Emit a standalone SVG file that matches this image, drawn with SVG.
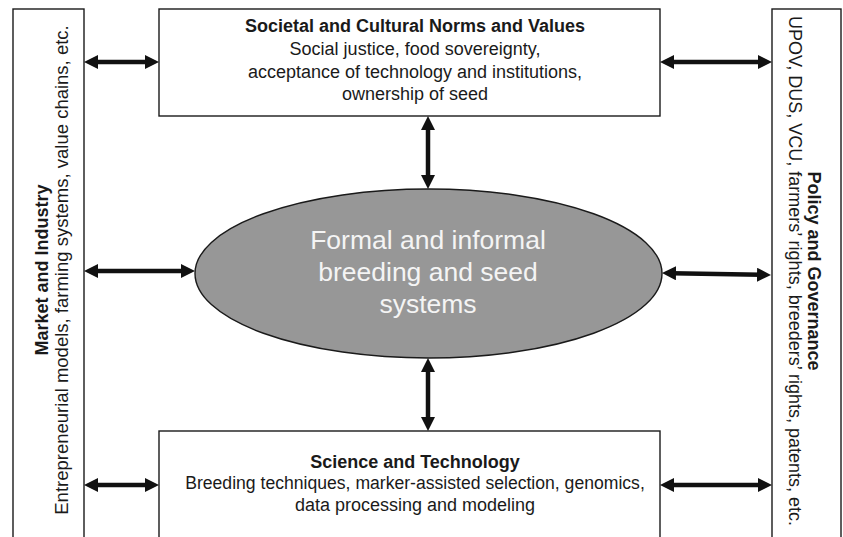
<svg xmlns="http://www.w3.org/2000/svg" width="843" height="537" viewBox="0 0 843 537">
<style>
.box{fill:#fff;stroke:#1a1a1a;stroke-width:1.4}
.ell{fill:#979797;stroke:#1a1a1a;stroke-width:1.4}
.t{font-family:"Liberation Sans",Arial,sans-serif;font-size:18px;fill:#1a1a1a;text-anchor:middle}
.b{font-weight:bold}
.et{font-family:"Liberation Sans",Arial,sans-serif;font-size:26.5px;fill:#f4f4f4;text-anchor:middle}
.arr{stroke:#111;stroke-width:4.5;fill:none;marker-start:url(#ah);marker-end:url(#ah)}
</style>
<defs>
<marker id="ah" viewBox="0 0 14 14" markerWidth="14" markerHeight="14" markerUnits="userSpaceOnUse" refX="4" refY="7" orient="auto-start-reverse">
<path d="M0,0 L14,7 L0,14 z" fill="#111"/>
</marker>
</defs>
<g id="market">
<rect class="box" x="13" y="9" width="71" height="540"/>
<text class="t b" transform="translate(48,270) rotate(-90)">Market and Industry</text>
<text class="t" style="font-size:18.5px" transform="translate(68,270) rotate(-90)">Entrepreneurial models, farming systems, value chains, etc.</text>
</g>
<g id="policy">
<rect class="box" x="772" y="9" width="69" height="540"/>
<text class="t b" transform="translate(808,271) rotate(90)">Policy and Governance</text>
<text class="t" transform="translate(789,271) rotate(90)">UPOV, DUS, VCU, farmers’ rights, breeders’ rights, patents, etc.</text>
</g>
<g id="societal">
<rect class="box" x="159" y="9" width="501" height="107"/>
<text class="t b" x="415" y="32">Societal and Cultural Norms and Values</text>
<text class="t" x="415" y="55">Social justice, food sovereignty,</text>
<text class="t" x="415" y="78">acceptance of technology and institutions,</text>
<text class="t" x="415" y="100">ownership of seed</text>
</g>
<g id="science">
<rect class="box" x="159" y="431" width="501" height="120"/>
<text class="t b" x="415" y="468">Science and Technology</text>
<text class="t" style="font-size:17.6px" x="415" y="489">Breeding techniques, marker-assisted selection, genomics,</text>
<text class="t" x="415" y="511">data processing and modeling</text>
</g>
<g id="systems">
<ellipse class="ell" cx="428.5" cy="273.5" rx="233.5" ry="84.5"/>
<text class="et" x="428" y="249">Formal and informal</text>
<text class="et" x="428" y="281">breeding and seed</text>
<text class="et" x="428" y="313">systems</text>
</g>
<g id="connectors">
<line class="arr" x1="94" y1="62" x2="149" y2="62"/>
<line class="arr" x1="94" y1="271" x2="185" y2="271"/>
<line class="arr" x1="94" y1="485" x2="149" y2="485"/>
<line class="arr" x1="670" y1="62" x2="762" y2="62"/>
<line class="arr" x1="672" y1="273.2" x2="761" y2="274.8"/>
<line class="arr" x1="670" y1="485" x2="762" y2="485"/>
<line class="arr" x1="428" y1="126" x2="428" y2="179"/>
<line class="arr" x1="428" y1="368" x2="428" y2="421"/>
</g>
</svg>
